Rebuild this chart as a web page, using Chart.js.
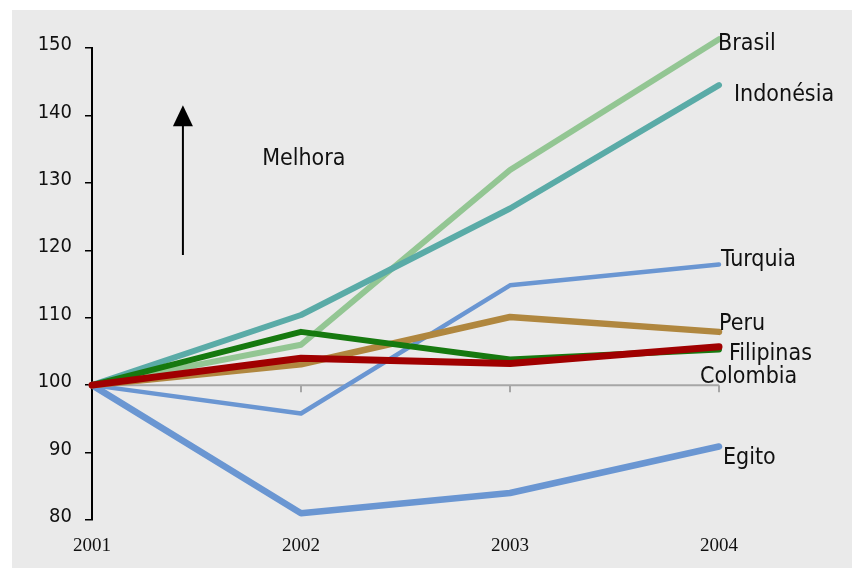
<!DOCTYPE html>
<html>
<head>
<meta charset="utf-8">
<script src="https://cdn.jsdelivr.net/npm/chart.js@4"></script>
<style>
  html, body { margin: 0; padding: 0; background: #fff; }
  canvas { display: block; }
</style>
</head>
<body>
<canvas id="chart" width="852" height="568"></canvas>
<script>
// anos (eixo x)
const years = ['2001', '2002', '2003', '2004'];

// índices por país, 2001 = 100
const brasil    = [100, 106.0, 131.9, 151.3];
const indonesia = [100, 110.4, 126.2, 144.5];
const turquia   = [100,  95.8, 114.8, 117.9];
const peru      = [100, 103.1, 110.1, 107.9];
const filipinas = [100, 107.9, 103.8, 105.3];
const colombia  = [100, 104.0, 103.2, 105.7];
const egito     = [100,  81.0,  84.0,  90.9];

const yTicks = [80, 90, 100, 110, 120, 130, 140, 150];

const FONT = '"DejaVu Sans Condensed", "DejaVu Sans", sans-serif';

// séries: nome, dados, cor, espessura, deslocamento do rótulo
const series = [
  { name: 'Colombia',  data: colombia,  color: '#a00000', width: 7,   dx: -19, dy: 30 },
  { name: 'Filipinas', data: filipinas, color: '#16790f', width: 6,   dx: 10,  dy: 5 },
  { name: 'Peru',      data: peru,      color: '#b0873f', width: 6.5, dx: 0,   dy: -8 },
  { name: 'Indonésia', data: indonesia, color: '#5aaba7', width: 6,   dx: 15,  dy: 10 },
  { name: 'Brasil',    data: brasil,    color: '#93c693', width: 6,   dx: -1,  dy: 5 },
  { name: 'Egito',     data: egito,     color: '#6a96d2', width: 6.5, dx: 4,   dy: 12 },
  { name: 'Turquia',   data: turquia,   color: '#6a96d2', width: 4.5, dx: 2,   dy: -4 },
];

/**
 * fundo cinza da figura
 */
const backgroundPlugin = {
  id: 'background',
  beforeDraw(chart) {
    const ctx = chart.ctx;
    ctx.save();
    ctx.fillStyle = '#ffffff';
    ctx.fillRect(0, 0, chart.width, chart.height);
    ctx.fillStyle = '#eaeaea';
    ctx.fillRect(12, 10, chart.width - 12, chart.height - 10);
    ctx.restore();
  }
};

/**
 * linha de base em 100 com marcas nos anos
 */
const baselinePlugin = {
  id: 'baseline',
  beforeDatasetsDraw(chart) {
    const ctx = chart.ctx;
    const x = chart.scales.x;
    const y = chart.scales.y.getPixelForValue(100);
    ctx.save();
    ctx.strokeStyle = '#a6a6a6';
    ctx.lineWidth = 2;
    ctx.beginPath();
    ctx.moveTo(x.getPixelForValue(0), y);
    ctx.lineTo(x.getPixelForValue(years.length - 1), y);
    for (let i = 1; i < years.length; i++) {
      const px = x.getPixelForValue(i);
      ctx.moveTo(px, y);
      ctx.lineTo(px, y + 7);
    }
    ctx.stroke();
    ctx.restore();
  }
};

/**
 * rótulos das séries, seta e texto "Melhora"
 */
const annotationsPlugin = {
  id: 'annotations',
  afterDatasetsDraw(chart) {
    const ctx = chart.ctx;
    const xs = chart.scales.x;
    const ys = chart.scales.y;
    ctx.save();
    ctx.fillStyle = '#111';
    ctx.font = '23px ' + FONT;
    ctx.textBaseline = 'middle';
    ctx.textAlign = 'left';

    chart.data.datasets.forEach((ds, i) => {
      const s = series[i];
      const last = ds.data.length - 1;
      const px = xs.getPixelForValue(last);
      const py = ys.getPixelForValue(ds.data[last]);
      ctx.fillText(s.name, px + s.dx, py + s.dy);
    });

    // seta "Melhora"
    const ax = xs.getPixelForValue(0.435);
    const yBase = ys.getPixelForValue(119.3);
    const yTip = ys.getPixelForValue(141.5);
    ctx.strokeStyle = '#000';
    ctx.fillStyle = '#000';
    ctx.lineWidth = 2;
    ctx.beginPath();
    ctx.moveTo(ax, yBase);
    ctx.lineTo(ax, yTip + 18);
    ctx.stroke();
    ctx.beginPath();
    ctx.moveTo(ax, yTip);
    ctx.lineTo(ax - 10, yTip + 21);
    ctx.lineTo(ax + 10, yTip + 21);
    ctx.closePath();
    ctx.fill();

    ctx.fillStyle = '#111';
    ctx.fillText('Melhora', xs.getPixelForValue(0.814), ys.getPixelForValue(133.5));
    ctx.restore();
  }
};

const datasets = series.map(s => ({
  label: s.name,
  data: s.data,
  borderColor: s.color,
  backgroundColor: s.color,
  borderWidth: s.width,
  borderCapStyle: 'round',
  borderJoinStyle: 'round',
  pointRadius: 0,
  tension: 0,
  fill: false,
  clip: false,
}));

new Chart(document.getElementById('chart').getContext('2d'), {
  type: 'line',
  data: { labels: years, datasets },
  options: {
    responsive: false,
    animation: false,
    layout: { padding: { left: 12, right: 133, top: 48, bottom: 0 } },
    scales: {
      x: {
        offset: false,
        grid: { display: false, drawTicks: false },
        border: { display: false },
        ticks: {
          color: '#111',
          padding: 15,
          maxRotation: 0,
          font: { family: '"Liberation Serif", "Times New Roman", serif', size: 19 }
        },
        afterFit(scale) { scale.height = 48; }
      },
      y: {
        min: 80,
        max: 150,
        afterBuildTicks(scale) { scale.ticks = yTicks.map(v => ({ value: v })); },
        grid: {
          drawOnChartArea: false,
          drawTicks: true,
          tickLength: 7,
          color: '#000',
          lineWidth: 1.5
        },
        border: { display: true, color: '#000', width: 2 },
        ticks: {
          color: '#111',
          padding: 13,
          labelOffset: -3,
          font: { family: FONT, size: 20 }
        },
        afterFit(scale) { scale.width = 80; }
      }
    },
    plugins: {
      legend: { display: false },
      tooltip: { enabled: false }
    }
  },
  plugins: [backgroundPlugin, baselinePlugin, annotationsPlugin]
});
</script>
</body>
</html>
